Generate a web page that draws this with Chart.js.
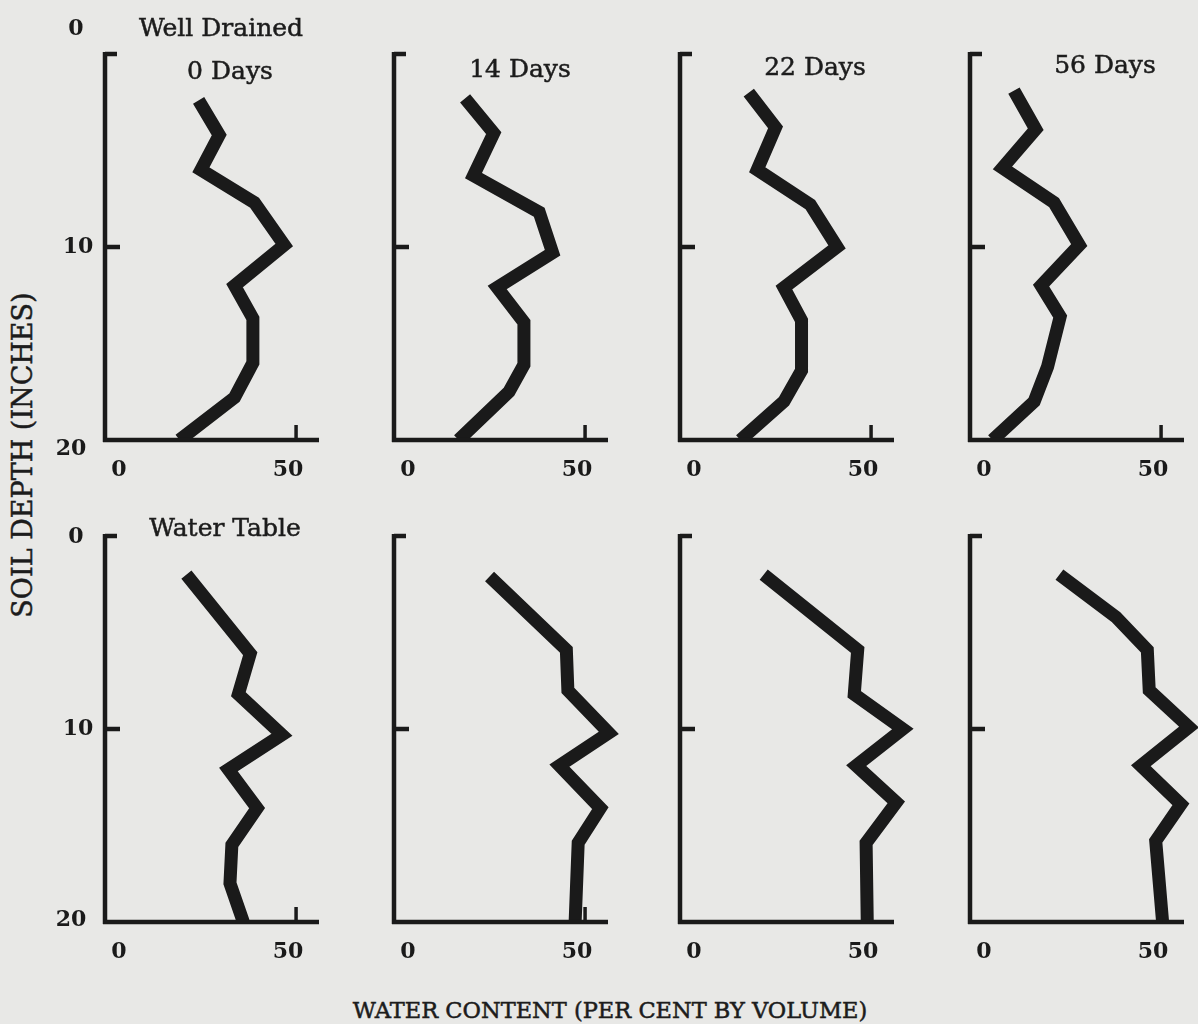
<!DOCTYPE html>
<html><head><meta charset="utf-8">
<script src="https://cdn.jsdelivr.net/npm/chart.js@4.4.1/dist/chart.umd.min.js"></script>
<style>
html,body{margin:0;padding:0;background:#e8e8e6;overflow:hidden;}
#wrap{position:relative;width:1198px;height:1024px;overflow:hidden;background:#e8e8e6;}
canvas{position:absolute;}
.t{position:absolute;transform:translate(-50%,-50%);font-family:"DejaVu Serif",serif;color:#1c1c1c;white-space:nowrap;line-height:1;-webkit-text-stroke:0.5px #1c1c1c;}
</style></head><body><div id="wrap"></div>
<script>
// ---- data ----
const categories = ['0 Days', '14 Days', '22 Days', '56 Days'];
const rowTitles = ['Well Drained', 'Water Table'];
const xTitle = 'WATER CONTENT (PER CENT BY VOLUME)';
const yTitle = 'SOIL DEPTH (INCHES)';
const xTickValues = [0, 50];
const xTickLabels = ['0', '50'];
const yTickValues = [0, 10, 20];
const yTickLabels = ['0', '10', '20'];

// Well drained
const wd0Water  = [24.5, 29.9, 25.1, 39.1, 46.9, 33.9, 38.7, 38.7, 33.9, 19.5];
const wd0Depth  = [2.4, 4.2, 6.0, 7.7, 9.9, 12.0, 13.7, 16.0, 17.8, 20];
const wd14Water = [18.6, 26.1, 20.8, 38.0, 41.5, 27.0, 34.0, 34.0, 30.1, 16.9];
const wd14Depth = [2.3, 4.1, 6.3, 8.2, 10.3, 12.1, 13.9, 16.1, 17.5, 20];
const wd22Water = [18.0, 25.0, 20.2, 34.1, 41.1, 27.2, 31.8, 31.8, 27.2, 15.8];
const wd22Depth = [2.0, 3.8, 6.0, 7.8, 10.0, 12.1, 13.8, 16.4, 18.0, 20];
const wd56Water = [11.5, 17.2, 8.5, 22.0, 28.6, 18.6, 23.6, 20.3, 16.8, 5.9];
const wd56Depth = [1.9, 3.9, 5.9, 7.7, 9.9, 12.0, 13.6, 16.2, 18.0, 20];
// Water table
const wt0Water  = [21.3, 38.0, 34.9, 46.3, 32.3, 39.8, 33.2, 32.7, 36.2];
const wt0Depth  = [2.0, 6.1, 8.2, 10.3, 12.1, 14.1, 16.0, 18.0, 20];
const wt14Water = [25.0, 45.1, 45.5, 56.2, 43.3, 54.0, 48.2, 47.4];
const wt14Depth = [2.1, 5.9, 8.0, 10.2, 11.9, 14.1, 15.9, 20];
const wt22Water = [21.9, 46.5, 45.6, 58.3, 46.1, 56.6, 48.7, 49.0];
const wt22Depth = [2.0, 5.9, 8.2, 10.0, 11.9, 13.8, 15.9, 20];
const wt56Water = [23.4, 38.2, 46.4, 46.9, 57.3, 44.7, 55.2, 48.6, 50.4];
const wt56Depth = [2.0, 4.2, 5.9, 8.0, 9.9, 11.9, 13.9, 15.8, 20];

const panelWater = [[wd0Water, wd14Water, wd22Water, wd56Water], [wt0Water, wt14Water, wt22Water, wt56Water]];
const panelDepth = [[wd0Depth, wd14Depth, wd22Depth, wd56Depth], [wt0Depth, wt14Depth, wt22Depth, wt56Depth]];

// ---- layout / style ----
const INK = '#1a1a1a';
const colX0 = [105, 394, 680, 970];
const rowTop = [54, 536];
const plotW = 214, plotH = 386;
const padL = 55, padT = 50, padR = 45, padB = 50;
const xMax = 56;
const xLabelNudge = [14, -8];
const yLabelDx = [-29, -27, -34];
const yLabelDy = [[-25, 0, 9], [1, 0, -2]];
const tickFont = 'bold 22px "DejaVu Serif", serif';

const wrap = document.getElementById('wrap');
function addText(txt, x, y, size, extra) {
  const d = document.createElement('div');
  d.className = 't';
  d.textContent = txt;
  d.style.left = x + 'px'; d.style.top = y + 'px';
  d.style.fontSize = size + 'px';
  if (extra) Object.assign(d.style, extra);
  wrap.appendChild(d);
}

const axisPlugin = {
  id: 'panelAxes',
  afterDatasetsDraw(chart, args, opts) {
    const ctx = chart.ctx, xs = chart.scales.x, ys = chart.scales.y;
    const x0 = xs.getPixelForValue(0), xEnd = xs.getPixelForValue(xMax);
    const yTop = ys.getPixelForValue(0), yBot = ys.getPixelForValue(20);
    ctx.save();
    ctx.strokeStyle = INK; ctx.fillStyle = INK; ctx.lineCap = 'butt';
    ctx.lineWidth = 4.5;
    ctx.beginPath(); ctx.moveTo(x0, yTop - 2); ctx.lineTo(x0, yBot + 2); ctx.stroke();
    ctx.beginPath(); ctx.moveTo(x0 - 2, yBot); ctx.lineTo(xEnd, yBot); ctx.stroke();
    yTickValues.forEach(v => {
      if (v === 20) return;
      const yp = ys.getPixelForValue(v);
      const len = v === 0 ? 12 : 15;
      ctx.beginPath(); ctx.moveTo(x0, yp); ctx.lineTo(x0 + len, yp); ctx.stroke();
    });
    ctx.lineWidth = 3.5;
    xTickValues.forEach(v => {
      if (v === 0) return;
      const xp = xs.getPixelForValue(v);
      ctx.beginPath(); ctx.moveTo(xp, yBot); ctx.lineTo(xp, yBot - 15); ctx.stroke();
    });
    ctx.font = tickFont; ctx.textAlign = 'center'; ctx.textBaseline = 'middle';
    xTickValues.forEach((v, i) => {
      ctx.fillText(xTickLabels[i], xs.getPixelForValue(v) + xLabelNudge[i], yBot + 30);
    });
    if (opts.showY) {
      yTickValues.forEach((v, i) => {
        ctx.fillText(yTickLabels[i], x0 + yLabelDx[i], ys.getPixelForValue(v) + yLabelDy[opts.row][i]);
      });
    }
    ctx.restore();
  }
};

for (let r = 0; r < 2; r++) {
  for (let c = 0; c < 4; c++) {
    const cv = document.createElement('canvas');
    const w = padL + plotW + padR, h = padT + plotH + padB;
    cv.width = w; cv.height = h;
    cv.style.width = w + 'px'; cv.style.height = h + 'px';
    cv.style.left = (colX0[c] - padL) + 'px';
    cv.style.top = (rowTop[r] - padT) + 'px';
    wrap.appendChild(cv);
    const water = panelWater[r][c], depth = panelDepth[r][c];
    const pts = water.map((x, i) => ({ x: x, y: depth[i] }));
    new Chart(cv.getContext('2d'), {
      type: 'scatter',
      data: { datasets: [{
        data: pts, showLine: true, borderColor: INK, backgroundColor: INK,
        borderWidth: 13, pointRadius: 0, pointHoverRadius: 0,
        borderJoinStyle: 'miter', borderCapStyle: 'butt', tension: 0,
        clip: { left: 40, top: 40, right: 45, bottom: 2 }
      }] },
      options: {
        responsive: false, animation: false, devicePixelRatio: 1,
        events: [],
        layout: { padding: { left: padL, top: padT, right: padR, bottom: padB } },
        scales: {
          x: { type: 'linear', min: 0, max: xMax, display: false },
          y: { type: 'linear', min: 0, max: 20, reverse: true, display: false }
        },
        plugins: {
          legend: { display: false }, tooltip: { enabled: false },
          panelAxes: { showY: c === 0, row: r }
        }
      },
      plugins: [axisPlugin]
    });
  }
}

// titles
addText(rowTitles[0], 221, 27, 25);
addText(rowTitles[1], 225, 527, 25);
const catPos = [[230, 70], [520, 68], [815, 66], [1105, 64]];
categories.forEach((t, i) => addText(t, catPos[i][0], catPos[i][1], 25));
addText(xTitle, 610, 1010, 22.5);
addText(yTitle, 22, 455, 27, { transform: 'translate(-50%,-50%) rotate(-90deg)' });
</script>
</body></html>
